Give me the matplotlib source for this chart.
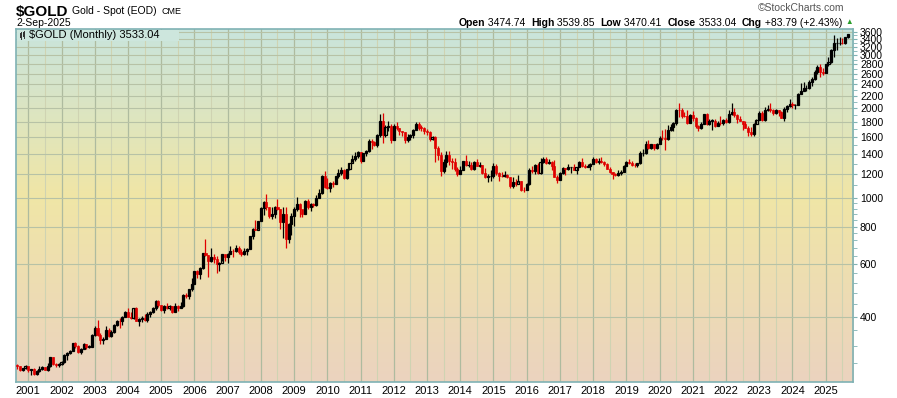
import numpy as np
import matplotlib
matplotlib.use("Agg")
import matplotlib.pyplot as plt
from matplotlib.colors import LinearSegmentedColormap

# -------------------------------
# monthly data, Sep 2000 .. Sep 2025
# -------------------------------
first_month = -4  # Sep 2000, counted from Jan 2001

closes = [
    273.7, 264.5, 269.1, 272.7,
    265.6, 266.7, 257.7, 263.2, 267.5, 270.6, 265.9, 273.0, 293.1, 278.8, 275.5, 278.7,
    282.3, 296.9, 301.4, 308.2, 326.6, 318.5, 304.7, 312.8, 323.7, 316.9, 317.1, 347.2,
    367.5, 347.5, 334.9, 336.8, 361.4, 346.0, 354.8, 375.6, 388.0, 386.3, 398.4, 416.3,
    399.8, 395.9, 427.0, 388.5, 393.3, 395.8, 391.4, 407.3, 415.7, 428.4, 452.5, 438.0,
    422.2, 435.5, 428.7, 435.7, 416.3, 435.5, 429.0, 433.3, 473.3, 470.8, 495.7, 513.0,
    568.8, 556.0, 582.0, 654.5, 643.5, 613.5, 632.5, 623.5, 599.3, 604.0, 646.7, 632.0,
    650.5, 664.2, 661.8, 677.0, 659.1, 650.5, 665.5, 672.0, 743.0, 789.5, 783.5, 833.8,
    923.3, 971.5, 933.5, 871.0, 885.8, 930.3, 918.0, 833.0, 884.5, 730.8, 814.5, 869.8,
    919.5, 952.0, 916.5, 883.3, 975.5, 934.5, 955.5, 949.5, 995.8, 1040.0, 1182.0, 1087.5,
    1081.0, 1118.5, 1113.3, 1179.3, 1207.5, 1244.0, 1169.0, 1246.0, 1307.5, 1346.8, 1383.5, 1421.4,
    1332.8, 1411.0, 1439.0, 1556.0, 1536.5, 1505.5, 1628.5, 1813.5, 1620.0, 1722.0, 1746.0, 1564.8,
    1737.0, 1711.0, 1668.0, 1664.0, 1560.0, 1604.0, 1622.0, 1687.0, 1772.0, 1720.0, 1714.0, 1675.0,
    1662.0, 1578.0, 1598.0, 1469.0, 1392.0, 1234.0, 1314.0, 1396.0, 1327.0, 1323.0, 1250.0, 1202.0,
    1240.0, 1326.0, 1284.0, 1292.0, 1250.0, 1322.0, 1282.0, 1287.0, 1209.0, 1171.0, 1182.0, 1184.0,
    1283.0, 1213.0, 1184.0, 1183.0, 1190.0, 1172.0, 1095.0, 1133.0, 1115.0, 1142.0, 1065.0, 1061.0,
    1117.0, 1238.0, 1233.0, 1291.0, 1214.0, 1321.0, 1350.0, 1309.0, 1316.0, 1274.0, 1174.0, 1152.0,
    1211.0, 1254.0, 1249.0, 1268.0, 1269.0, 1242.0, 1269.0, 1322.0, 1280.0, 1271.0, 1275.0, 1303.0,
    1345.0, 1318.0, 1325.0, 1315.0, 1298.0, 1252.0, 1224.0, 1201.0, 1192.0, 1215.0, 1222.0, 1282.0,
    1321.0, 1313.0, 1292.0, 1284.0, 1305.0, 1409.0, 1413.0, 1520.0, 1472.0, 1513.0, 1464.0, 1517.0,
    1589.0, 1585.0, 1577.0, 1686.0, 1730.0, 1781.0, 1975.0, 1967.0, 1886.0, 1879.0, 1776.0, 1898.0,
    1847.0, 1734.0, 1708.0, 1769.0, 1906.0, 1770.0, 1814.0, 1814.0, 1743.0, 1783.0, 1774.0, 1829.0,
    1797.0, 1909.0, 1937.0, 1897.0, 1837.0, 1807.0, 1766.0, 1711.0, 1661.0, 1633.0, 1768.0, 1824.0,
    1928.0, 1827.0, 1969.0, 1990.0, 1963.0, 1919.0, 1965.0, 1940.0, 1849.0, 1983.0, 2036.0, 2063.0,
    2040.0, 2044.0, 2230.0, 2286.0, 2327.0, 2327.0, 2447.0, 2503.0, 2635.0, 2744.0, 2643.0, 2625.0,
    2798.0, 2858.0, 3124.0, 3289.0, 3289.0, 3303.0, 3290.0, 3448.0, 3533.04,
]

highs = [
    278, 273, 270, 276,
    272, 268, 269, 265, 273, 274, 272, 279, 294, 293, 279, 281,
    284, 299, 304, 309, 327, 330, 322, 315, 326, 325, 322, 349,
    372, 389, 352, 341, 372, 368, 360, 377, 391, 397, 401, 417,
    428, 414, 428, 431, 397, 403, 409, 415, 419, 432, 455, 456,
    437, 437, 444, 438, 436, 443, 438, 448, 476, 479, 497, 541,
    570, 575, 588, 655, 730, 645, 679, 651, 640, 610, 650, 645,
    655, 690, 673, 695, 690, 673, 682, 677, 748, 794, 846, 837,
    930, 976, 1033, 935, 931, 942, 989, 917, 933, 935, 825, 887,
    932, 1006, 962, 914, 984, 991, 960, 963, 1025, 1072, 1196, 1227,
    1162, 1128, 1137, 1181, 1248, 1266, 1246, 1250, 1308, 1388, 1424, 1432,
    1423, 1413, 1447, 1576, 1577, 1556, 1633, 1912, 1921, 1758, 1804, 1764,
    1764, 1791, 1715, 1676, 1667, 1640, 1633, 1697, 1790, 1796, 1755, 1724,
    1696, 1679, 1617, 1616, 1487, 1424, 1348, 1434, 1434, 1362, 1361, 1267,
    1280, 1332, 1392, 1331, 1315, 1326, 1345, 1323, 1288, 1256, 1206, 1238,
    1307, 1294, 1223, 1225, 1232, 1206, 1175, 1170, 1157, 1191, 1142, 1088,
    1125, 1263, 1283, 1303, 1304, 1362, 1375, 1367, 1352, 1326, 1337, 1191,
    1220, 1264, 1262, 1295, 1270, 1296, 1271, 1331, 1357, 1298, 1299, 1307,
    1366, 1361, 1356, 1365, 1326, 1309, 1266, 1223, 1214, 1243, 1237, 1284,
    1326, 1347, 1324, 1310, 1306, 1439, 1453, 1555, 1557, 1518, 1516, 1524,
    1611, 1689, 1704, 1747, 1765, 1789, 1984, 2075, 1992, 1933, 1965, 1906,
    1959, 1872, 1755, 1798, 1913, 1917, 1832, 1831, 1834, 1814, 1877, 1830,
    1853, 1974, 2070, 1998, 1909, 1879, 1814, 1808, 1735, 1730, 1786, 1833,
    1949, 1959, 2009, 2049, 2079, 1983, 1987, 1966, 1953, 2009, 2052, 2135,
    2088, 2065, 2236, 2431, 2450, 2388, 2483, 2531, 2685, 2790, 2801, 2726,
    2817, 2956, 3148, 3500, 3435, 3452, 3439, 3454, 3540,
]

lows = [
    267, 263, 263, 267,
    262, 255, 255, 255, 262, 265, 265, 264, 271, 275, 271, 271,
    276, 281, 287, 299, 306, 315, 302, 299, 311, 311, 314, 316,
    344, 345, 323, 324, 336, 341, 342, 352, 372, 367, 375, 398,
    399, 392, 392, 386, 371, 383, 387, 385, 398, 413, 420, 430,
    417, 411, 425, 422, 413, 414, 418, 428, 432, 462, 460, 489,
    513, 538, 537, 579, 640, 542, 610, 605, 560, 568, 615, 613,
    603, 650, 636, 660, 651, 640, 642, 645, 673, 730, 780, 784,
    834, 878, 912, 857, 850, 858, 908, 786, 736, 681, 705, 753,
    802, 902, 866, 865, 883, 916, 904, 931, 942, 996, 1033, 1075,
    1073, 1045, 1087, 1113, 1163, 1189, 1155, 1158, 1243, 1314, 1333, 1360,
    1309, 1326, 1381, 1419, 1462, 1496, 1478, 1603, 1532, 1603, 1669, 1523,
    1564, 1691, 1627, 1614, 1527, 1541, 1564, 1590, 1687, 1692, 1672, 1636,
    1626, 1555, 1562, 1321, 1338, 1180, 1207, 1272, 1293, 1251, 1227, 1187,
    1202, 1239, 1277, 1268, 1240, 1240, 1281, 1273, 1204, 1161, 1131, 1142,
    1167, 1191, 1142, 1170, 1170, 1162, 1077, 1080, 1099, 1133, 1052, 1046,
    1062, 1107, 1208, 1205, 1200, 1200, 1310, 1301, 1303, 1241, 1171, 1123,
    1146, 1200, 1194, 1241, 1214, 1236, 1205, 1266, 1271, 1260, 1264, 1236,
    1302, 1307, 1303, 1310, 1281, 1245, 1211, 1160, 1180, 1182, 1196, 1221,
    1276, 1303, 1280, 1266, 1267, 1302, 1382, 1400, 1459, 1459, 1445, 1454,
    1517, 1563, 1451, 1567, 1670, 1671, 1757, 1863, 1848, 1860, 1764, 1776,
    1802, 1717, 1677, 1706, 1766, 1751, 1751, 1688, 1721, 1746, 1759, 1753,
    1780, 1785, 1890, 1872, 1787, 1805, 1681, 1709, 1615, 1617, 1616, 1765,
    1823, 1805, 1810, 1950, 1932, 1893, 1903, 1885, 1847, 1810, 1931, 2017,
    2002, 1985, 2039, 2229, 2277, 2286, 2319, 2364, 2472, 2603, 2536, 2583,
    2615, 2773, 2833, 2970, 3121, 3247, 3268, 3268, 3436,
]

year_labels = [str(y) for y in range(2001, 2026)]
price_ticks = [400, 600, 800, 1000, 1200, 1400, 1600, 1800, 2000, 2200,
               2400, 2600, 2800, 3000, 3200, 3400, 3600]

# open of each month = previous month's close
opens = [closes[0] * 1.01] + closes[:-1]
xs = np.arange(first_month, first_month + len(closes))

# -------------------------------
# figure
# -------------------------------
plt.rcParams['font.family'] = ['Liberation Sans', 'DejaVu Sans']
W, H = 897, 398
fig = plt.figure(figsize=(W / 100, H / 100), dpi=100)
x0, x1, y0, y1 = 15.7, 853, 28.7, 381.7
pos = [x0 / W, 1 - y1 / H, (x1 - x0) / W, (y1 - y0) / H]

# gradient background
bg = fig.add_axes(pos)
cmap = LinearSegmentedColormap.from_list(
    "bg", [(0.0, "#c9e4dc"), (0.47, "#f0e6a6"), (1.0, "#ebd3bf")])
bg.imshow(np.linspace(0, 1, 256).reshape(-1, 1), aspect="auto", cmap=cmap,
          extent=[0, 1, 1, 0])
bg.set_axis_off()

ax = fig.add_axes(pos)
ax.set_facecolor("none")
ax.set_yscale("log")
ax.set_xlim(-4.55, 297.86)
ax.set_ylim(242.4, 3684)

# grid
for i in range(len(year_labels)):
    ax.axvline(i * 12, color="#aebb9f", lw=0.9, zorder=1)
    ax.axvline(i * 12 + 6, color="#cfd3b2", lw=0.8, zorder=1)
for p in price_ticks:
    ax.axhline(p, color="#b7c2a6", lw=0.8, zorder=1)

# candles
for x, o, h, l, c in zip(xs, opens, highs, lows, closes):
    col = "#e00000" if c < o else "black"
    ax.vlines(x, l, h, color=col, lw=0.9, zorder=3)
    lo, hi = min(o, c), max(o, c)
    if hi / lo < 1.004:
        hi = lo * 1.004
    if c < o:
        ax.bar(x, hi - lo, bottom=lo, width=0.75, color=col, edgecolor=col,
               lw=0.5, zorder=4)
    else:
        ax.bar(x, hi - lo, bottom=lo, width=0.75, facecolor="none",
               edgecolor="black", lw=0.9, zorder=4)

# axes styling
for s in ax.spines.values():
    s.set_color("#7fb2b4")
    s.set_linewidth(1.2)
ax.yaxis.tick_right()
ax.set_yticks(price_ticks)
ax.set_yticklabels([str(p) for p in price_ticks])
minor = [v for v in range(280, 1000, 40) if v not in price_ticks] + \
        [v for v in range(1100, 3600, 200)]
ax.set_yticks(minor, minor=True)
ax.yaxis.set_minor_formatter(plt.NullFormatter())
ax.tick_params(axis="y", which="major", length=3, color="#7fb2b4",
               labelsize=7.5, pad=2)
ax.tick_params(axis="y", which="minor", length=3, color="#7fb2b4")
ax.set_xticks([i * 12 for i in range(len(year_labels))])
ax.set_xticklabels(year_labels)
ax.set_xticks([i * 12 + 6 for i in range(len(year_labels))], minor=True)
ax.tick_params(axis="x", which="both", length=0, labelsize=8, pad=3)

# legend box (icon + text)
fig.patches.append(plt.Rectangle((17 / W, 1 - 41 / H), 162 / W, 11 / H,
                                 transform=fig.transFigure, fc="#cde6dd",
                                 ec="none", zorder=5))
for k, (yb, yt) in enumerate([(38, 33), (37, 32)]):
    fig.lines.append(plt.Line2D([(21 + 3 * k) / W] * 2,
                                [1 - (yb + 1) / H, 1 - (yt - 1) / H],
                                transform=fig.transFigure, color="#333333",
                                lw=0.7, zorder=6))
    fig.patches.append(plt.Rectangle(((20 + 3 * k) / W, 1 - yb / H),
                                     2 / W, (yb - yt) / H,
                                     transform=fig.transFigure,
                                     fc="#333333", ec="none", zorder=6))
fig.text(29 / W, 1 - 35 / H, "$GOLD (Monthly) 3533.04", fontsize=8,
         va="center", ha="left", zorder=7)

# header texts
fig.canvas.draw()
renderer = fig.canvas.get_renderer()
t_sym = fig.text(16 / W, 1 - 12 / H, "$GOLD", fontsize=11, fontweight="bold",
                 va="center", ha="left")
w_sym = t_sym.get_window_extent(renderer).width
t_name = fig.text((16 + w_sym + 4) / W, 1 - 11 / H, "Gold - Spot (EOD)",
                  fontsize=7.5, va="center", ha="left")
w_name = t_name.get_window_extent(renderer).width
fig.text((16 + w_sym + 4 + w_name + 4) / W, 1 - 11 / H, "CME", fontsize=6.5,
         va="center", ha="left")
fig.text(16 / W, 1 - 22.5 / H, "2-Sep-2025", fontsize=7.5, va="center",
         ha="left")
fig.text(844 / W, 1 - 8 / H, "\u00a9StockCharts.com", fontsize=7.5,
         color="#555555", va="center", ha="right")

parts = [("Open", True), (" 3474.74  ", False), ("High", True),
         (" 3539.85  ", False), ("Low", True), (" 3470.41  ", False),
         ("Close", True), (" 3533.04  ", False), ("Chg", True),
         (" +83.79 (+2.43%)", False)]
widths = []
objs = []
for s, b in parts:
    t = fig.text(0, 1 - 22.5 / H, s, fontsize=7.5,
                 fontweight="bold" if b else "normal", va="center", ha="left")
    objs.append(t)
    widths.append(t.get_window_extent(renderer).width)
xcur = 842 - sum(widths)
for t, w in zip(objs, widths):
    t.set_x(xcur / W)
    xcur += w
fig.text(845 / W, 1 - 22.5 / H, "\u25b2", fontsize=5.5, color="#2a9d2a",
         va="center", ha="left")

fig.savefig("out.png", dpi=100)
